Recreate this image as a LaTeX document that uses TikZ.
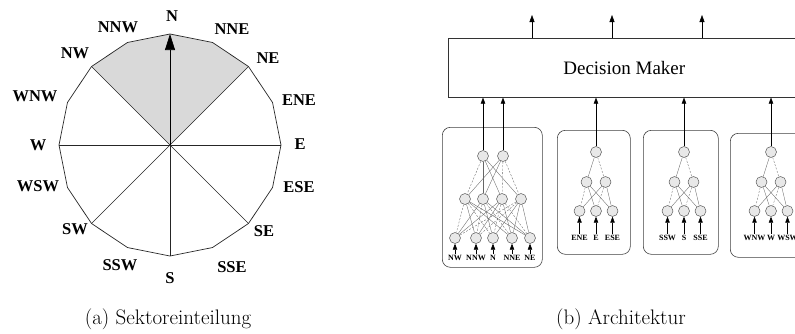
\documentclass[tikz,border=0pt]{standalone}
\usepackage{fontspec}
\newfontfamily\timesfont{Liberation Serif}
\usetikzlibrary{arrows.meta}

\begin{document}
\begin{tikzpicture}[x=1pt,y=-1pt,every node/.style={inner sep=1pt},
    wind/.style={font=\timesfont\bfseries\fontsize{16.5}{20}\selectfont},
    cell/.style={circle,draw=black!70,fill=gray!18,line width=0.45pt,minimum size=11pt,inner sep=0pt},
    link/.style={draw=black!60,line width=0.35pt},
    dlink/.style={link,dash pattern=on 2pt off 1.5pt},
    module/.style={draw=black!75,rounded corners=8pt,line width=0.6pt,anchor=north west},
    inlab/.style={font=\timesfont\bfseries\fontsize{8}{9}\selectfont},
    feed/.style={-{Triangle[width=4.5pt,length=6pt]},line width=0.5pt},
    caption/.style={font=\fontsize{21}{24}\selectfont,anchor=base}]

\useasboundingbox (0,0) rectangle (795,333);
\clip (0,0) rectangle (795,333);

% (a) sectors
\begin{scope}[shift={(170,145)},yscale=-1]
  \coordinate (ctr) at (0,0);
  \foreach \a/\n in {90/N,45/NE,0/E,-45/SE,-90/S,-135/SW,180/W,135/NW}
    \coordinate (p\n) at (\a:111);
  \fill[gray!30] (ctr) -- (135:111) -- (112.5:111) -- (90:111) -- (67.5:111) -- (45:111) -- cycle;
  \draw[line width=0.7pt,black!85] (0:111) \foreach \a in {22.5,45,...,337.5} { -- (\a:111) } -- cycle;
  \foreach \n in {NE,E,SE,S,SW,W,NW}
    \draw[line width=0.6pt,black!85] (ctr) -- (p\n);
  \draw[-{Triangle[width=10pt,length=16pt]},line width=0.7pt] (ctr) -- (pN);
\end{scope}
\node[wind] (lN) at (172,16) {N};
\node[wind] (lNNE) at (232,29) {NNE};
\node[wind] (lNE) at (268,58) {NE};
\node[wind] (lENE) at (299,100) {ENE};
\node[wind] (lE) at (300,144) {E};
\node[wind] (lESE) at (299,187) {ESE};
\node[wind] (lSE) at (264,231) {SE};
\node[wind] (lSSE) at (232,267) {SSE};
\node[wind] (lS) at (170,278) {S};
\node[wind] (lSSW) at (120,265) {SSW};
\node[wind] (lSW) at (75,229) {SW};
\node[wind] (lWSW) at (38,186) {WSW};
\node[wind] (lW) at (38,145) {W};
\node[wind] (lWNW) at (35,96) {WNW};
\node[wind] (lNW) at (75,53) {NW};
\node[wind] (lNNW) at (118,27) {NNW};
\node[caption] (capa) at (168,324) {(a) Sektoreinteilung};

% (b) modules and decision maker
\node[draw=black!80,line width=0.6pt,anchor=north west,minimum width=352pt,minimum height=59pt,
      font=\timesfont\fontsize{19}{22}\selectfont] (dm) at (448,38) {Decision Maker};
\foreach \x [count=\i] in {532,612,702} {
  \coordinate (out\i) at (\x,15);
  \draw[-{Triangle[width=5pt,length=7pt]},line width=0.5pt] (out\i |- dm.north) -- (out\i);
}

\node[module,minimum width=100pt,minimum height=140pt] (ma) at (442,127) {};
\node[module,minimum width=73pt,minimum height=124pt] (mb) at (557,130) {};
\node[module,minimum width=75pt,minimum height=124pt] (mc) at (643,130) {};
\node[module,minimum width=75pt,minimum height=124pt] (md) at (730,133) {};

% first module: 5 inputs
\node[cell] (a-t1) at (483,156) {};
\node[cell] (a-t2) at (503,156) {};
\foreach \x [count=\i] in {465,483,502,521}
  \node[cell] (a-m\i) at (\x,199) {};
\foreach \x/\t [count=\i] in {455/NW,476/NNW,493/N,512/NNE,530/NE} {
  \node[cell] (a-b\i) at (\x,238) {};
  \node[inlab] (a-l\i) at (\x,258) {\t};
}
\foreach \s/\e in {t1/m2,t1/m3,t1/m4,t2/m1,t2/m2,m1/b2,m1/b4,m1/b5,m2/b1,m2/b3,m2/b5,m3/b1,m3/b2,m3/b4,m4/b3,m4/b4,m4/b5}
  \draw[link] (a-\s) -- (a-\e);
\foreach \s/\e in {t1/m1,t2/m3,t2/m4,m1/b1,m1/b3,m2/b2,m2/b4,m3/b3,m3/b5,m4/b1,m4/b2}
  \draw[dlink] (a-\s) -- (a-\e);
\foreach \i in {1,...,5}
  \draw[feed] (a-l\i) -- (a-b\i);
\foreach \i in {1,2}
  \draw[feed] (a-t\i) -- (a-t\i |- dm.south);

% the other modules: 3 inputs
\foreach \m/\cx/\la/\lb/\lc in {b/596/ENE/E/ESE,c/684/SSW/S/SSE,d/771/WNW/W/WSW} {
  \node[cell] (\m-t1) at (\cx,152) {};
  \node[cell] (\m-m1) at (\cx-9.5,182) {};
  \node[cell] (\m-m2) at (\cx+9.5,182) {};
  \node[cell] (\m-b1) at (\cx-16.5,211) {};
  \node[cell] (\m-b2) at (\cx,211) {};
  \node[cell] (\m-b3) at (\cx+16.5,211) {};
  \node[inlab] (\m-l1) at (\cx-16.5,238) {\la};
  \node[inlab] (\m-l2) at (\cx,238) {\lb};
  \node[inlab] (\m-l3) at (\cx+16.5,238) {\lc};
  \foreach \s/\e in {t1/m1,m1/b2,m1/b3,m2/b1,m2/b3}
    \draw[link] (\m-\s) -- (\m-\e);
  \foreach \s/\e in {t1/m2,m1/b1,m2/b2}
    \draw[dlink] (\m-\s) -- (\m-\e);
  \foreach \i in {1,2,3}
    \draw[feed] (\m-l\i) -- (\m-b\i);
  \draw[feed] (\m-t1) -- (\m-t1 |- dm.south);
}
\node[caption] (capb) at (621,324) {(b) Architektur};
\end{tikzpicture}
\end{document}
